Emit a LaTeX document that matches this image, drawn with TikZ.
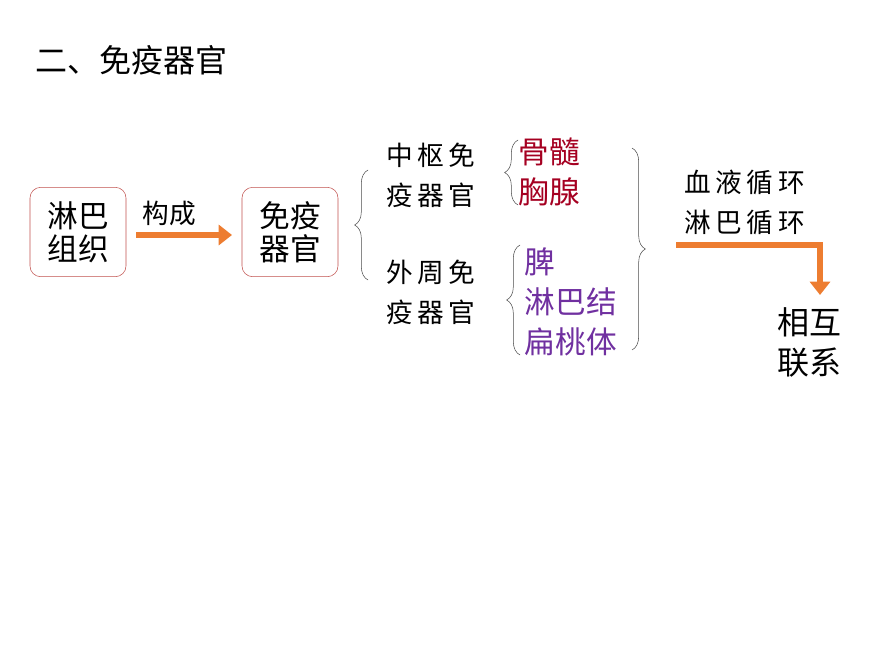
\documentclass[tikz,border=0pt]{standalone}
\usepackage{fontspec}
\setmainfont{Noto Sans CJK SC}
\usetikzlibrary{decorations.pathreplacing,arrows.meta}
\definecolor{boxred}{RGB}{192,80,77}
\definecolor{darkred}{RGB}{165,0,33}
\definecolor{violet}{RGB}{112,48,160}
\definecolor{orng}{RGB}{237,125,49}
\begin{document}
\begin{tikzpicture}[x=0.75pt,y=-0.75pt]
  \tikzstyle{organ}=[draw=boxred,rounded corners=8pt,minimum width=72pt,minimum height=67pt,align=center,font=\fontsize{23}{25}\selectfont,inner sep=2pt]
  \tikzstyle{word}=[align=left,font=\fontsize{20}{30}\selectfont,anchor=west]
  \tikzset{arrowline/.style = {orng,line width=5pt,-{Triangle[length=10pt,width=15pt]}}}
  \tikzset{brace/.style = {decorate,decoration={brace,amplitude=10pt},black!70,thin}}
  \useasboundingbox (0,0) rectangle (870,653);
  \node[anchor=west,font=\fontsize{24}{26}\selectfont] (title) at (31,60) {二、免疫器官};
  \node[organ] (lymph) at (78,232) {淋巴\\组织};
  \node[organ] (organ) at (290,232) {免疫\\器官};
  \node[word] (make) at (138,213) {构成};
  \draw[arrowline] (lymph.east)++(10,3) coordinate (a1) -- (232,235) coordinate (a2);
  \draw[brace] (368,280) -- (368,170);
  \node[word] (central) at (382,175) {中\,枢\,免\\疫\,器\,官};
  \node[word] (periph) at (382,292) {外\,周\,免\\疫\,器\,官};
  \draw[brace] (518,205) -- (518,140);
  \node[word,text=darkred,font=\fontsize{23}{30}\selectfont] (cent) at (514,172) {骨髓\\胸腺};
  \draw[brace] (520,355) -- (520,245);
  \node[word,text=violet,font=\fontsize{23}{30}\selectfont] (per) at (520,302) {脾\\淋巴结\\扁桃体};
  \draw[brace] (632,148) -- (632,350);
  \node[word] (circ) at (680,202) {血\,液\,循\,环\\淋\,巴\,循\,环};
  \coordinate (b1) at (676,245);
  \coordinate (b2) at (820,295);
  \draw[arrowline] (b1) -| (b2);
  \node[align=center,font=\fontsize{24}{30}\selectfont] (link) at (809,342) {相互\\联系};
\end{tikzpicture}
\end{document}
